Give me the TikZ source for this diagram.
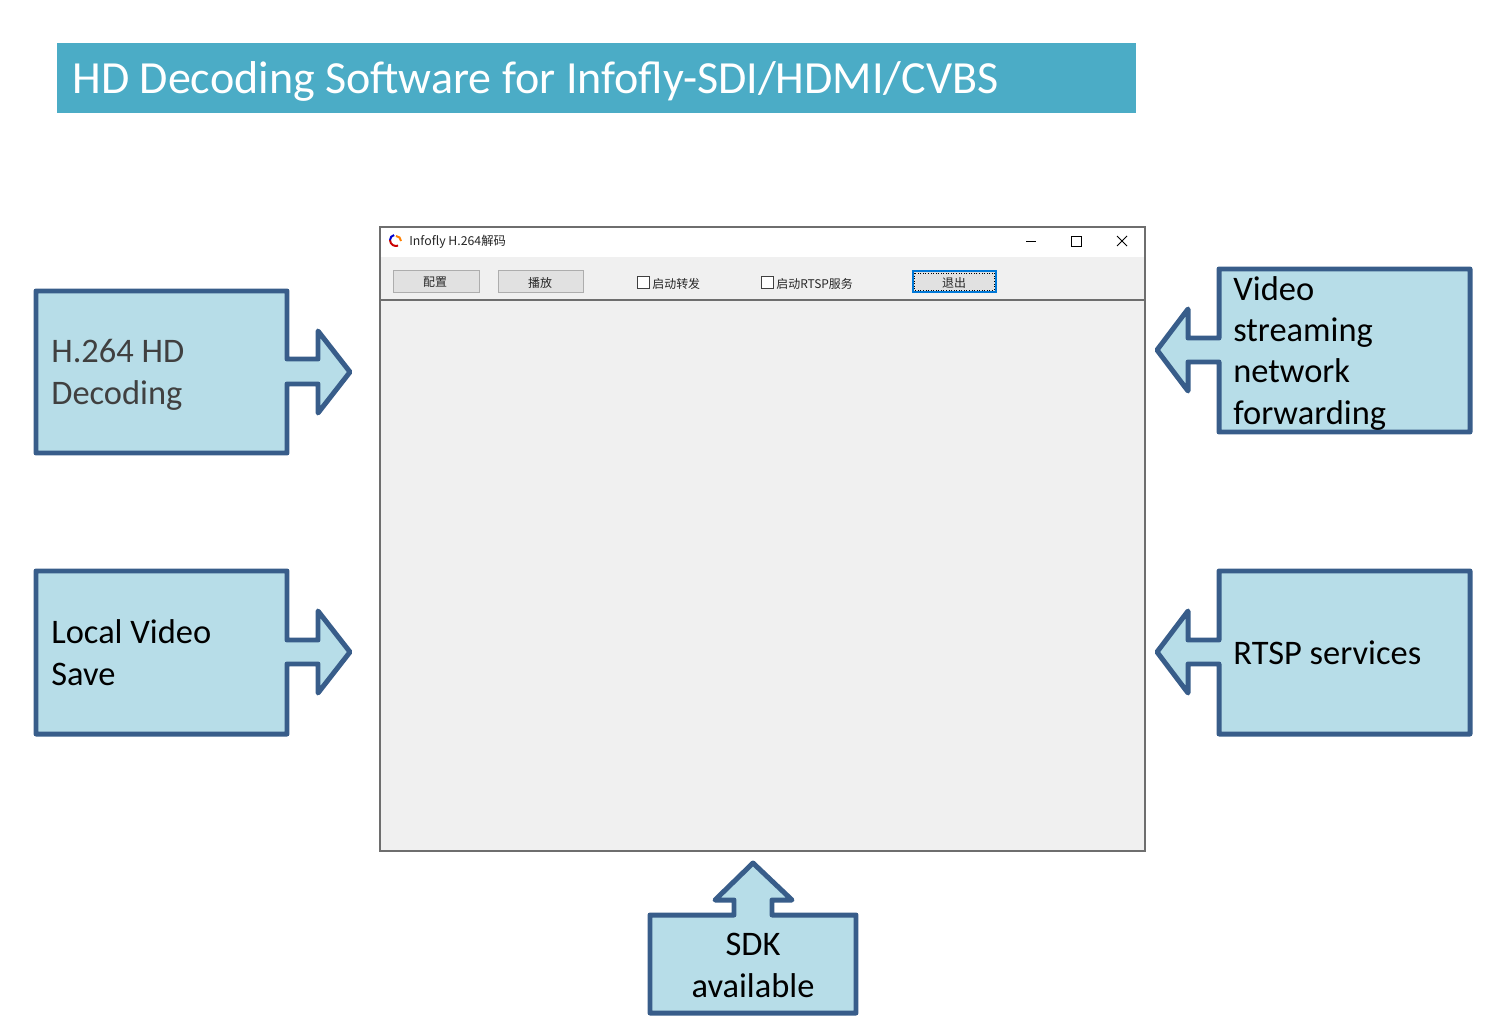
\documentclass[tikz,border=0pt]{standalone}
\usepackage{fontspec}
\setmainfont{Carlito}
\newfontfamily\cjk{Noto Sans CJK SC}
\definecolor{titleblue}{HTML}{4BACC6}
\definecolor{calloutfill}{HTML}{B7DDE8}
\definecolor{calloutline}{HTML}{385D8A}
\definecolor{winface}{HTML}{F0F0F0}
\definecolor{winedge}{HTML}{6E6E6E}
\definecolor{btnface}{HTML}{E1E1E1}
\definecolor{btnedge}{HTML}{ADADAD}
\definecolor{focusblue}{HTML}{0078D7}
\tikzset{%
	callout/.style  = {draw=calloutline, fill=calloutfill, line width=5\pxunit, line join=round},
	boxtext/.style  = {anchor=base west, align=left, font=\fontsize{19.6}{23.5}\selectfont, inner sep=0pt},
	uitext/.style   = {font=\cjk\fontsize{6.8}{8}\selectfont, inner sep=0pt, text=black!85},
	winbtn/.style   = {draw=btnedge, fill=btnface, line width=1\pxunit},
	winbox/.style   = {draw=black!75, fill=white, line width=1\pxunit},
	wincap/.style   = {draw=black, line width=1\pxunit},
}
\newdimen\pxunit
\pxunit=0.5669pt
\begin{document}
\begin{tikzpicture}[x=0.02cm,y=-0.02cm]
	\useasboundingbox (0,0) rectangle (1495,1035);
	% heading
	\fill[titleblue] (57,43) rectangle (1136,113);
	\node [anchor=base west,inner sep=0pt,text=white,font=\fontsize{26.2}{30}\selectfont] (heading) at (72,93) {HD Decoding Software for Infofly-SDI/HDMI/CVBS};
	% decoder window
	\draw[winedge,fill=winface,line width=1.5\pxunit] (380,227) rectangle (1145,851);
	\fill[white] (381,228) rectangle (1144,257);
	\draw[winedge,line width=1.2\pxunit] (380,300) -- (1145,300);
	\draw[red!80!black,line width=2\pxunit] (390,240) arc (180:70:6);
	\draw[blue!80!black,line width=2\pxunit] (390,240) arc (180:260:5);
	\draw[orange,line width=2\pxunit] (401,241) arc (0:-90:5);
	\node [anchor=west,inner sep=0pt,font=\cjk\fontsize{7}{8}\selectfont,text=black!85] (wintitle) at (409,242) {Infofly H.264解码};
	\draw[wincap] (1026,241) -- (1036,241);
	\draw[wincap] (1071,236) rectangle (1081,246);
	\draw[wincap] (1117,236) -- (1127,246) (1117,246) -- (1127,236);
	% toolbar
	\draw[winbtn] (393,270) rectangle (479,292);
	\node [uitext] (config) at (435,282.5) {配置};
	\draw[winbtn] (498,270) rectangle (583,292);
	\node [uitext] (play) at (540,282.5) {播放};
	\draw[winbox] (637,276) rectangle (649,288);
	\node [uitext,anchor=west] (forward) at (652,283.5) {启动转发};
	\draw[winbox] (761,276) rectangle (773,288);
	\node [uitext,anchor=west] (rtsp) at (776,283.5) {启动RTSP服务};
	\draw[fill=btnface,draw=focusblue,line width=2\pxunit] (912.5,271) rectangle (996,292);
	\draw[black,densely dotted,line width=0.8\pxunit] (914.5,273) rectangle (994,290);
	\node [uitext] (quit) at (954,282.5) {退出};
	% left callouts
	\draw[callout] (36,291) -- (287,291) -- (287,359) -- (318,359) -- (318,331) -- (350,372) -- (318,413) -- (318,384) -- (287,384) -- (287,453) -- (36,453) -- cycle;
	\node [boxtext,text=black!75] (decoding) at (51,404) {H.264 HD\\Decoding};
	\draw[callout] (36,571) -- (287,571) -- (287,640) -- (318,640) -- (318,611) -- (350,652) -- (318,693) -- (318,664) -- (287,664) -- (287,734) -- (36,734) -- cycle;
	\node [boxtext] (save) at (51,685) {Local Video\\Save};
	% right callouts
	\draw[callout] (1219,269) -- (1470,269) -- (1470,432) -- (1219,432) -- (1219,362) -- (1188,362) -- (1188,391) -- (1157,350) -- (1188,309) -- (1188,338) -- (1219,338) -- cycle;
	\node [boxtext] (stream) at (1233,424) {Video\\streaming\\network\\forwarding};
	\draw[callout] (1219,571) -- (1470,571) -- (1470,734) -- (1219,734) -- (1219,664) -- (1188,664) -- (1188,693) -- (1157,652) -- (1188,611) -- (1188,640) -- (1219,640) -- cycle;
	\node [boxtext] (services) at (1233,664) {RTSP services};
	% bottom callout
	\draw[callout] (650,915) -- (734,915) -- (734,900) -- (715,900) -- (753,863) -- (792,900) -- (772,900) -- (772,915) -- (856,915) -- (856,1013) -- (650,1013) -- cycle;
	\node [boxtext,anchor=base,align=center] (sdk) at (753,997) {SDK\\available};
\end{tikzpicture}
\end{document}
